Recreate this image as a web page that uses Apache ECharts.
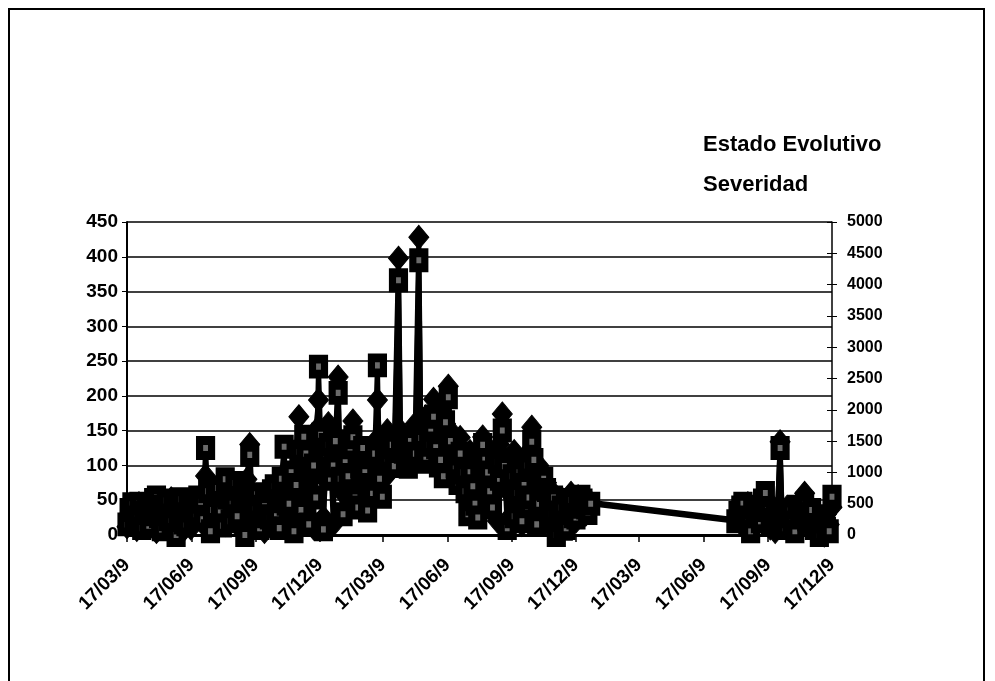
<!DOCTYPE html>
<html>
<head>
<meta charset="utf-8">
<script src="https://cdn.jsdelivr.net/npm/echarts@6/dist/echarts.min.js"></script>
<style>
  html, body { margin: 0; padding: 0; background: #fff; }
  #chart { width: 995px; height: 681px; }
</style>
</head>
<body>
<div id="chart"></div>
<script>
// Observation dates (twice-weekly sampling, with a gap during 1999)
const dates = [
  '1997-03-17','1997-03-20','1997-03-24','1997-03-27','1997-03-31','1997-04-03','1997-04-07','1997-04-10','1997-04-14','1997-04-17','1997-04-21','1997-04-24','1997-04-28','1997-05-01','1997-05-05','1997-05-08','1997-05-12','1997-05-15','1997-05-19','1997-05-22','1997-05-26','1997-05-29','1997-06-02','1997-06-05','1997-06-09','1997-06-12','1997-06-16','1997-06-19',
  '1997-06-23','1997-06-26','1997-06-30','1997-07-03','1997-07-07','1997-07-10','1997-07-14','1997-07-17','1997-07-21','1997-07-24','1997-07-28','1997-07-31','1997-08-04','1997-08-07','1997-08-11','1997-08-14','1997-08-18','1997-08-21','1997-08-25','1997-08-28','1997-09-01','1997-09-04','1997-09-08','1997-09-11','1997-09-15','1997-09-18','1997-09-22','1997-09-25','1997-09-29','1997-10-02',
  '1997-10-06','1997-10-09','1997-10-13','1997-10-16','1997-10-20','1997-10-23','1997-10-27','1997-10-30','1997-11-03','1997-11-06','1997-11-10','1997-11-13','1997-11-17','1997-11-20','1997-11-24','1997-11-27','1997-12-01','1997-12-04','1997-12-08','1997-12-11','1997-12-15','1997-12-18','1997-12-22','1997-12-25','1997-12-29','1998-01-01',
  '1998-01-05','1998-01-08','1998-01-12','1998-01-15','1998-01-19','1998-01-22','1998-01-26','1998-01-29','1998-02-02','1998-02-05','1998-02-09','1998-02-12','1998-02-16','1998-02-19','1998-02-23','1998-02-26','1998-03-02','1998-03-05','1998-03-09','1998-03-12','1998-03-16','1998-03-19','1998-03-23','1998-03-26','1998-03-30','1998-04-02',
  '1998-04-08','1998-04-11','1998-04-15','1998-04-18','1998-04-22','1998-04-25','1998-04-29','1998-05-02','1998-05-07','1998-05-10','1998-05-14','1998-05-17','1998-05-21','1998-05-24','1998-05-28','1998-05-31','1998-06-04','1998-06-07','1998-06-11','1998-06-14','1998-06-18','1998-06-21','1998-06-25','1998-06-28','1998-07-02','1998-07-05','1998-07-09','1998-07-12','1998-07-16','1998-07-19','1998-07-23','1998-07-26','1998-07-30','1998-08-02',
  '1998-08-06','1998-08-09','1998-08-13','1998-08-16','1998-08-20','1998-08-23','1998-08-27','1998-08-30','1998-09-03','1998-09-06','1998-09-10','1998-09-13','1998-09-17','1998-09-20','1998-09-24','1998-09-27','1998-10-01','1998-10-04','1998-10-08','1998-10-11','1998-10-15','1998-10-18','1998-10-22','1998-10-25','1998-10-29','1998-11-01','1998-11-05','1998-11-08','1998-11-12','1998-11-15','1998-11-19','1998-11-22','1998-11-26','1998-11-29','1998-12-03','1998-12-06','1998-12-10','1998-12-13','1998-12-17','1998-12-20','1998-12-24','1998-12-27','1998-12-31','1999-01-03','1999-01-07',
  '1999-08-02','1999-08-05','1999-08-09','1999-08-12','1999-08-16','1999-08-19','1999-08-23','1999-08-26','1999-08-30','1999-09-02','1999-09-06','1999-09-09','1999-09-13','1999-09-16','1999-09-20','1999-09-23','1999-09-27','1999-09-30','1999-10-04','1999-10-07','1999-10-11','1999-10-14','1999-10-18','1999-10-21','1999-10-25','1999-10-28','1999-11-01','1999-11-04','1999-11-08','1999-11-11','1999-11-15','1999-11-18','1999-11-22','1999-11-25','1999-11-29','1999-12-02','1999-12-06','1999-12-09','1999-12-13','1999-12-17'
];

// Estado Evolutivo (left axis)
const estadoEvolutivo = [
  12,30, 40,22, 8,45, 38,15, 20,35, 50,25, 5,40, 45,20, 12,38, 52,15, 30,45, 3,35, 48,25, 10,40,
  45,30, 20,60, 85,40, 8,55, 30,15, 72,50, 15,35, 65,25, 40,70, 10,45, 55,80, 130,60, 20,35, 45,20, 5,40,
  60,40, 15,70, 80,20, 35,85, 10,60, 90,120, 170,90, 20,110, 140,60, 10,150, 194,100, 25,80, 160,120,
  15,140, 227,90, 60,110, 120,70, 164,130, 45,90, 110,60, 70,120, 130,80, 194,140, 95,110, 150,90, 120,130,
  398,150, 140,125, 120,145, 135,160, 428,140, 130,170, 150,130, 195,180, 140,110, 120,160, 214,150, 130,120, 100,140, 115,100, 60,120, 95,80, 40,120,
  141,90, 60,120, 110,70, 20,130, 174,110, 95,60, 30,120, 100,50, 15,110, 80,120, 155,70, 40,100, 90,50, 75,30, 10,60, 45,25, 5,50, 35,20, 60,40, 20,55, 45,35, 30,50, 47,
  22,30, 35,20, 10,45, 40,25, 15,35, 45,30, 20,50, 10,25, 5,25, 134,30, 25,40, 15,30, 30,20, 10,45, 60,35, 20,25, 35,15, 5,20, 0,30, 15, 40
];

// Severidad (right axis)
const severidad = [
  170,400, 490,200, 280,500, 110,350, 470,150, 330,560, 600,300, 90,450, 550,250, 220,480, 0,380, 570,200, 170,520, 390,300,
  330,600, 530,250, 1390,700, 60,400, 670,750, 390,150, 890,600, 220,500, 830,300, 560,700, 0,600, 1280,500, 440,650, 110,450, 530,300,
  280,700, 780,300, 110,900, 1410,500, 500,1000, 60,800, 1330,400, 1570,1300, 170,1000, 1110,600, 2690,1600, 90,1300, 1440,900,
  1110,1500, 2270,900, 330,1200, 940,1400, 1560,600, 440,1100, 1390,1000, 390,800, 670,1300, 2710,900, 610,1200, 1220,1400, 1440,1100,
  4070,1400, 1330,1200, 1090,1500, 1220,1300, 4390,1550, 1170,1250, 1440,1700, 1890,1400, 1110,1200, 940,1800, 2200,1500, 1220,1100, 830,1300, 1000,700, 330,1000, 780,500, 280,1100,
  1440,1200, 1000,700, 440,1300, 1170,900, 1670,1100, 110,800, 940,300, 670,1000, 220,800, 1110,600, 1490,1200, 170,500, 780,900, 720,400, 330,600, 0,300, 440,100, 110,500, 560,300, 280,450, 610,550, 440,350, 500,
  220,350, 440,500, 280,200, 60,450, 390,300, 220,550, 670,400, 170,250, 330,350, 1390,300, 110,300, 390,200, 60,450, 280,350, 500,250, 330,400, 110,150, 0,300, 220,100, 60, 610
];

// Quarterly tick dates and their labels
const tickDates = ['1997-03-17','1997-06-17','1997-09-17','1997-12-17','1998-03-17','1998-06-17','1998-09-17','1998-12-17','1999-03-17','1999-06-17','1999-09-17','1999-12-17'];
const tickLabels = ['17/03/97','17/06/97','17/09/97','17/12/97','17/03/98','17/06/98','17/09/98','17/12/98','17/03/99','17/06/99','17/09/99','17/12/99'];

const seriesNames = ['Estado Evolutivo', 'Severidad'];

// Dates are placed on a linear day scale counted from the first observation
const DAY = 86400000;
function dayNumber(s) {
  const p = s.split('-').map(Number);
  return Math.round((Date.UTC(p[0], p[1] - 1, p[2]) - Date.UTC(1997, 2, 17)) / DAY);
}
const tickDays = tickDates.map(dayNumber);
const estadoData = dates.map((d, i) => [dayNumber(d), estadoEvolutivo[i]]);
const severidadData = dates.map((d, i) => [dayNumber(d), severidad[i]]);

const axisFont = { fontFamily: 'Liberation Sans, Arial, sans-serif', fontWeight: 'bold', color: '#000' };

const chart = echarts.init(document.getElementById('chart'), null, { renderer: 'canvas' });
chart.setOption({
  animation: false,
  backgroundColor: '#fff',
  graphic: [{
    type: 'rect',
    shape: { x: 9, y: 9, width: 975, height: 720 },
    style: { fill: 'none', stroke: '#000', lineWidth: 2 },
    silent: true
  }],
  legend: {
    orient: 'vertical',
    left: 693,
    top: 129,
    itemGap: 18,
    icon: 'none',
    itemWidth: 0,
    itemHeight: 0,
    selectedMode: false,
    data: seriesNames,
    textStyle: { fontFamily: 'Liberation Sans, Arial, sans-serif', fontWeight: 'bold', fontSize: 22, color: '#000' }
  },
  grid: { left: 127, right: 163, top: 222, bottom: 146, containLabel: false },
  xAxis: {
    type: 'value',
    min: 0,
    max: tickDays[tickDays.length - 1],
    axisLine: { show: true, lineStyle: { color: '#000', width: 3 } },
    axisTick: { show: true, customValues: tickDays, length: 7, lineStyle: { color: '#000', width: 1.5 } },
    splitLine: { show: false },
    axisLabel: Object.assign({
      customValues: tickDays,
      rotate: 45,
      fontSize: 19,
      margin: 27,
      width: 68,
      overflow: 'truncate',
      ellipsis: '',
      formatter: function (v) {
        let best = 0;
        for (let i = 0; i < tickDays.length; i++) {
          if (Math.abs(tickDays[i] - v) < Math.abs(tickDays[best] - v)) best = i;
        }
        return tickLabels[best];
      }
    }, axisFont)
  },
  yAxis: [
    {
      type: 'value', position: 'left', min: 0, max: 450, interval: 50,
      axisLine: { show: true, lineStyle: { color: '#000', width: 2 } },
      axisTick: { show: true, length: 5, lineStyle: { color: '#000' } },
      splitLine: { show: true, lineStyle: { color: '#000', width: 1.5 } },
      axisLabel: Object.assign({ fontSize: 19, margin: 9 }, axisFont)
    },
    {
      type: 'value', position: 'right', min: 0, max: 5000, interval: 500,
      axisLine: { show: true, lineStyle: { color: '#000', width: 1.5 } },
      axisTick: { show: true, length: 5, lineStyle: { color: '#000' } },
      splitLine: { show: false },
      axisLabel: Object.assign({ fontSize: 16, margin: 15, formatter: v => String(v) }, axisFont)
    },
    {
      type: 'value', position: 'right', min: 0, max: 5000, interval: 500,
      axisLine: { show: false },
      axisTick: { show: true, inside: true, length: 5, lineStyle: { color: '#000' } },
      splitLine: { show: false },
      axisLabel: { show: false }
    }
  ],
  series: [
    {
      name: seriesNames[0],
      type: 'line',
      yAxisIndex: 0,
      data: estadoData,
      symbol: 'diamond',
      symbolSize: [20, 24],
      showAllSymbol: true,
      lineStyle: { color: '#000', width: 5 },
      itemStyle: { color: '#000', borderColor: '#000', borderWidth: 1 },
      emphasis: { disabled: true }
    },
    {
      name: seriesNames[1],
      type: 'line',
      yAxisIndex: 1,
      data: severidadData,
      symbol: 'rect',
      symbolSize: [12, 15],
      showAllSymbol: true,
      lineStyle: { color: '#000', width: 5 },
      itemStyle: { color: '#6a6a6a', borderColor: '#000', borderWidth: 8 },
      emphasis: { disabled: true }
    }
  ]
});
</script>
</body>
</html>
